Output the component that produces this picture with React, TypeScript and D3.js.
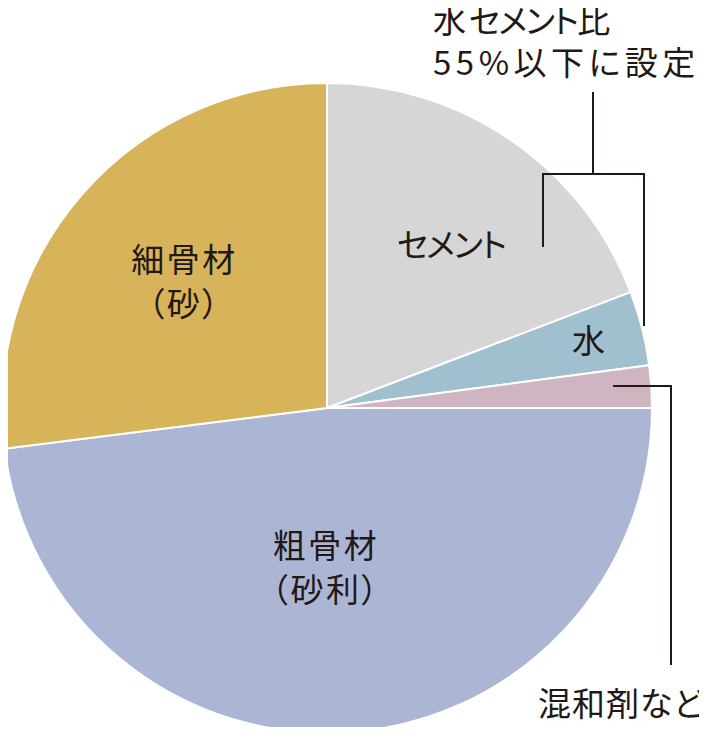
import { arc, pie, PieArcDatum } from "d3";

const width = 707;
const height = 735;
const cx = 327;
const cy = 408;
const radius = 325;

// 体積構成比 (%) — 読み取り値
const categories = ["cement", "water", "admixture", "coarse", "fine"];
const values = [19.2, 3.7, 2.1, 48.0, 27.0];
const colors = ["#d5d6d5", "#a0bfcf", "#cfb5c1", "#abb6d5", "#d7b459"];
const labels: string[][] = [["セメント"], ["水"], [], ["粗骨材", "（砂利）"], ["細骨材", "（砂）"]];
const labelRadius = [205, 271, 0, 160, 190];
const labelShift = [2.7, 0, 0, 4, 0]; // degrees
const noteLines = ["水セメント比", "55%以下に設定"];
const admixLabel = "混和剤など";

const ink = "#231815";
const font = "'Noto Sans CJK JP', 'Noto Sans', sans-serif";
const textStyle = { fontFeatureSettings: "'palt'" };

type Slice = { key: string; value: number; color: string };

// カタカナは詰め、漢字などは少し空ける
function runs(t: string, wide: number, kana = -1.5) {
  const parts = t.match(/[\u30A0-\u30FF]+|[^\u30A0-\u30FF]+/g) || [];
  return parts.map((p, i) => (
    <tspan key={i} letterSpacing={/[\u30A0-\u30FF]/.test(p) ? kana : wide}>
      {p}
    </tspan>
  ));
}

function App() {
  const data: Slice[] = categories.map((c, i) => ({ key: c, value: values[i], color: colors[i] }));
  const arcs = pie<Slice>().sort(null).value((d) => d.value).startAngle(0).endAngle(2 * Math.PI)(data);
  const arcGen = arc<PieArcDatum<Slice>>().innerRadius(0).outerRadius(radius);

  return (
    <svg width={width} height={height} style={{ display: "block", margin: "-8px" }}>
      <g transform={`translate(${cx},${cy})`}>
        {arcs.map((a) => (
          <path key={a.data.key} d={arcGen(a) || ""} fill={a.data.color} stroke="#fff" strokeWidth={2} />
        ))}
        {arcs.map((a, i) => {
          const lines = labels[i];
          if (!lines.length) return null;
          const r = labelRadius[i];
          const sh = (labelShift[i] * Math.PI) / 180;
          const shifted = { ...a, startAngle: a.startAngle + sh, endAngle: a.endAngle + sh };
          const [x, y] = arc<PieArcDatum<Slice>>().innerRadius(r).outerRadius(r).centroid(shifted);
          const lh = 44;
          return (
            <text key={a.data.key} textAnchor="middle" fontFamily={font} fontSize={33} fill={ink} style={textStyle}>
              {lines.map((t, j) => (
                <tspan key={j} x={x} y={y + (j - (lines.length - 1) / 2) * lh} dy="0.36em">
                  {runs(t, 2.5)}
                </tspan>
              ))}
            </text>
          );
        })}
      </g>

      {/* 水セメント比の注記 */}
      <g stroke={ink} strokeWidth={2} fill="none">
        <path d="M593,92 V174 M543,247 V174 H644 V326" />
        <path d="M613,386 H671 V665" />
      </g>
      <text fontFamily={font} fontSize={33} fill={ink} style={textStyle}>
        <tspan x={433} y={33}>{runs(noteLines[0], 3)}</tspan>
        <tspan x={433} y={75}>{runs(noteLines[1], 4.5)}</tspan>
      </text>
      <text x={538} y={716} fontFamily={font} fontSize={33} fill={ink} style={textStyle} textLength={166} lengthAdjust="spacing">
        {admixLabel}
      </text>
    </svg>
  );
}

export default App;
